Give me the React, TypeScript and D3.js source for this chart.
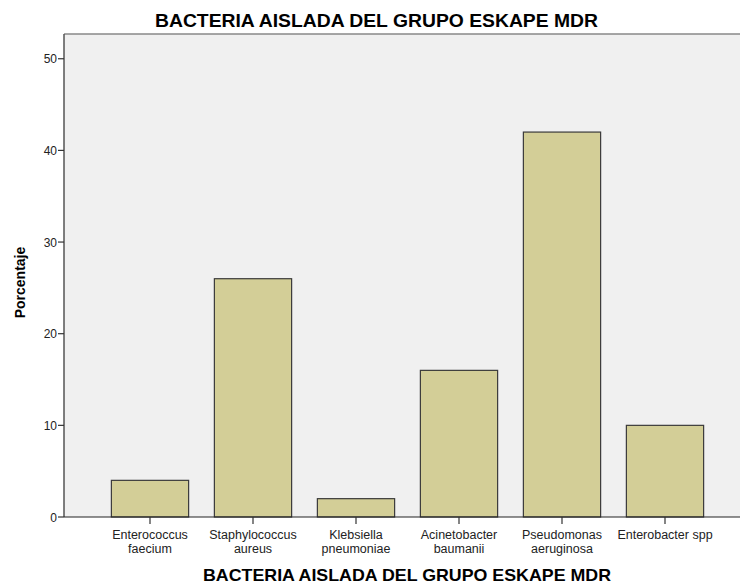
import React from "react";
import * as d3 from "d3";

const categories = [
  ["Enterococcus", "faecium"],
  ["Staphylococcus", "aureus"],
  ["Klebsiella", "pneumoniae"],
  ["Acinetobacter", "baumanii"],
  ["Pseudomonas", "aeruginosa"],
  ["Enterobacter spp"],
];
const values = [4, 26, 2, 16, 42, 10];
const yTicks = [0, 10, 20, 30, 40, 50];
const title = "BACTERIA AISLADA DEL GRUPO ESKAPE MDR";
const xTitle = "BACTERIA AISLADA DEL GRUPO ESKAPE MDR";
const yTitle = "Porcentaje";

export default function App() {
  const W = 740, H = 584;
  const plotLeft = 64, plotTop = 34, plotBottom = 517, plotRight = 752;
  const x = d3
    .scaleBand<number>()
    .domain(d3.range(categories.length))
    .range([98.5, 716.5])
    .paddingInner(0.25)
    .paddingOuter(0.125);
  const y = d3.scaleLinear().domain([0, 52.7]).range([plotBottom, plotTop]);
  const font = "'Liberation Sans', Arial, sans-serif";
  return (
    <svg width={W} height={H} style={{ position: "absolute", left: 0, top: 0 }} fontFamily={font}>
      <rect x={0} y={0} width={W} height={H} fill="#ffffff" />
      <text x={376.5} y={27} textAnchor="middle" fontSize={18} fontWeight="bold" fill="#000" textLength={443} lengthAdjust="spacingAndGlyphs">
        {title}
      </text>
      <rect x={plotLeft} y={plotTop} width={plotRight - plotLeft} height={plotBottom - plotTop} fill="#f0f0f0" />
      <line x1={plotLeft} x2={plotRight} y1={plotTop} y2={plotTop} stroke="#888" strokeWidth={1.5} />
      {values.map((v, i) => (
        <rect
          key={i}
          x={x(i)!}
          y={y(v)}
          width={x.bandwidth()}
          height={plotBottom - y(v)}
          fill="#d3ce97"
          stroke="#3a3a3a"
          strokeWidth={1.2}
        />
      ))}
      <line x1={plotLeft} x2={plotLeft} y1={plotTop} y2={plotBottom} stroke="#555" strokeWidth={1.5} />
      <line x1={plotLeft} x2={plotRight} y1={plotBottom} y2={plotBottom} stroke="#222" strokeWidth={1.2} />
      {yTicks.map((t) => (
        <g key={t}>
          <line x1={plotLeft - 6} x2={plotLeft} y1={y(t)} y2={y(t)} stroke="#333" strokeWidth={1.2} />
          <text x={plotLeft - 7} y={y(t) + 4.5} textAnchor="end" fontSize={12} fill="#222">
            {t}
          </text>
        </g>
      ))}
      {categories.map((lines, i) => {
        const cx = x(i)! + x.bandwidth() / 2;
        return (
          <g key={i}>
            <line x1={cx} x2={cx} y1={plotBottom} y2={plotBottom + 7} stroke="#333" strokeWidth={1.2} />
            {lines.map((l, j) => (
              <text key={j} x={cx} y={539 + j * 14} textAnchor="middle" fontSize={12.5} fill="#222">
                {l}
              </text>
            ))}
          </g>
        );
      })}
      <text x={407} y={581} textAnchor="middle" fontSize={17} fontWeight="bold" fill="#000" textLength={408} lengthAdjust="spacingAndGlyphs">
        {xTitle}
      </text>
      <text transform={`translate(25,${(plotTop + plotBottom) / 2 + 7}) rotate(-90)`} textAnchor="middle" fontSize={14} fontWeight="bold" fill="#000">
        {yTitle}
      </text>
    </svg>
  );
}
